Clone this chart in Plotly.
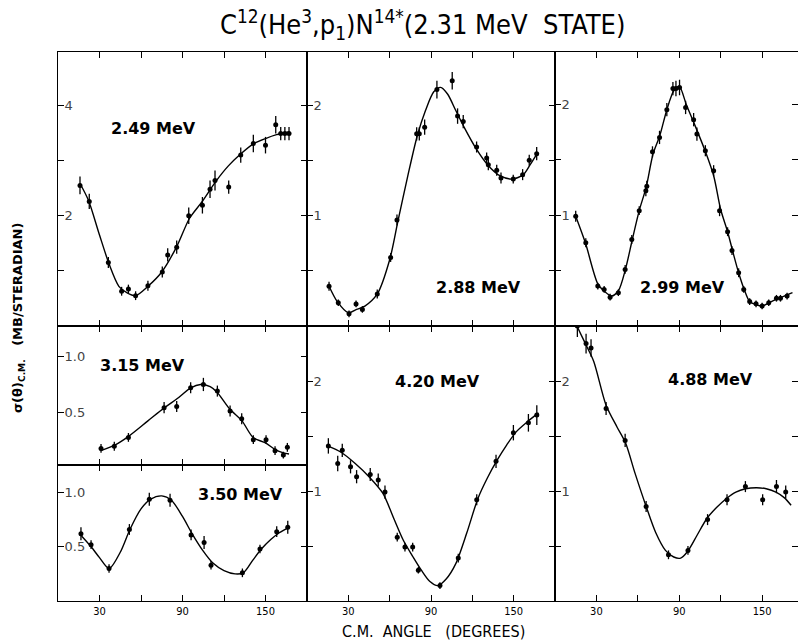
import plotly.graph_objects as go

W, H = 798, 641

# ---------------- data (angle in degrees, sigma in mb/sr) ----------------
e249_ang = [15.9, 22.6, 36.4, 46.0, 50.9, 56.1, 65.0, 75.4, 79.3, 85.8, 94.5, 104.4, 109.9, 113.5, 123.4, 132.1, 141.2, 150.0, 157.4, 161.0, 164.0, 167.0]
e249_val = [2.55, 2.26, 1.15, 0.63, 0.67, 0.55, 0.73, 0.98, 1.29, 1.43, 2.00, 2.19, 2.48, 2.64, 2.52, 3.10, 3.31, 3.28, 3.65, 3.49, 3.49, 3.49]
e249_err = [0.16, 0.14, 0.10, 0.08, 0.08, 0.08, 0.09, 0.10, 0.12, 0.12, 0.15, 0.15, 0.16, 0.18, 0.12, 0.14, 0.16, 0.15, 0.16, 0.12, 0.12, 0.12]
c249_ang = [16, 22, 30, 37, 44, 50, 56, 65, 75, 86, 95, 104, 114, 123, 132, 141, 150, 158, 167]
c249_val = [2.58, 2.28, 1.65, 1.12, 0.72, 0.60, 0.55, 0.72, 0.98, 1.45, 1.95, 2.25, 2.62, 2.90, 3.12, 3.30, 3.40, 3.47, 3.52]

e288_ang = [16.0, 22.7, 30.5, 35.6, 40.2, 51.0, 60.7, 65.3, 79.6, 81.5, 85.4, 94.3, 105.4, 109.3, 113.4, 123.1, 130.4, 131.6, 137.7, 140.8, 149.7, 156.5, 161.3, 166.7]
e288_val = [0.36, 0.21, 0.11, 0.20, 0.15, 0.29, 0.62, 0.96, 1.74, 1.74, 1.80, 2.14, 2.22, 1.90, 1.85, 1.62, 1.52, 1.46, 1.41, 1.34, 1.33, 1.37, 1.50, 1.56]
e288_err = [0.04, 0.03, 0.03, 0.03, 0.03, 0.04, 0.04, 0.05, 0.06, 0.06, 0.07, 0.08, 0.08, 0.07, 0.06, 0.05, 0.05, 0.05, 0.05, 0.05, 0.04, 0.05, 0.05, 0.06]
c288_ang = [16, 22, 30, 36, 42, 51, 60, 66, 73, 80, 86, 92, 97, 102, 108, 114, 123, 131, 140, 149, 157, 162, 167]
c288_val = [0.36, 0.22, 0.12, 0.15, 0.18, 0.29, 0.60, 0.95, 1.35, 1.72, 1.95, 2.12, 2.16, 2.10, 1.95, 1.80, 1.60, 1.46, 1.36, 1.33, 1.37, 1.46, 1.56]

e299_ang = [15.0, 22.3, 31.0, 35.6, 39.9, 45.9, 50.8, 55.6, 61.0, 65.8, 66.5, 70.6, 75.7, 81.0, 85.4, 87.6, 90.2, 94.6, 100.4, 102.8, 108.9, 114.9, 119.2, 125.0, 128.2, 133.0, 136.7, 141.0, 145.6, 150.0, 154.8, 160.4, 163.3, 168.1]
e299_val = [0.99, 0.75, 0.36, 0.33, 0.26, 0.30, 0.51, 0.78, 1.04, 1.22, 1.26, 1.57, 1.70, 1.95, 2.14, 2.14, 2.15, 1.97, 1.86, 1.73, 1.58, 1.40, 1.04, 0.85, 0.68, 0.48, 0.33, 0.22, 0.20, 0.18, 0.21, 0.25, 0.25, 0.27]
e299_err = [0.05, 0.04, 0.03, 0.03, 0.03, 0.03, 0.04, 0.04, 0.04, 0.05, 0.05, 0.05, 0.06, 0.06, 0.06, 0.07, 0.07, 0.06, 0.06, 0.06, 0.05, 0.05, 0.05, 0.04, 0.04, 0.04, 0.03, 0.03, 0.03, 0.03, 0.03, 0.03, 0.03, 0.03]
c299_ang = [15, 22, 31, 36, 41, 46, 51, 56, 61, 66, 71, 76, 81, 86, 90, 95, 101, 109, 115, 120, 125, 129, 133, 137, 141, 146, 150, 155, 160, 168, 172]
c299_val = [0.99, 0.75, 0.38, 0.31, 0.27, 0.32, 0.51, 0.78, 1.04, 1.25, 1.55, 1.72, 1.95, 2.12, 2.16, 2.00, 1.82, 1.57, 1.35, 1.05, 0.85, 0.66, 0.48, 0.33, 0.22, 0.19, 0.18, 0.21, 0.24, 0.28, 0.30]

e315_ang = [31.1, 40.7, 50.9, 76.7, 85.8, 95.9, 105.1, 115.2, 124.4, 132.8, 141.2, 150.4, 156.9, 162.9, 165.8]
e315_val = [0.17, 0.19, 0.27, 0.54, 0.55, 0.72, 0.75, 0.69, 0.51, 0.44, 0.25, 0.25, 0.15, 0.11, 0.18]
e315_err = [0.04, 0.04, 0.04, 0.05, 0.05, 0.05, 0.06, 0.05, 0.05, 0.05, 0.04, 0.04, 0.04, 0.03, 0.04]
c315_ang = [31, 41, 51, 65, 77, 86, 96, 103, 110, 115, 124, 133, 141, 150, 157, 163, 167]
c315_val = [0.15, 0.20, 0.28, 0.42, 0.54, 0.62, 0.72, 0.75, 0.73, 0.68, 0.53, 0.42, 0.27, 0.22, 0.16, 0.13, 0.12]

e350_ang = [16.6, 23.9, 36.9, 51.6, 66.0, 81.0, 96.2, 105.6, 110.6, 133.3, 146.0, 158.1, 166.1]
e350_val = [0.62, 0.52, 0.30, 0.66, 0.94, 0.93, 0.61, 0.54, 0.33, 0.26, 0.48, 0.64, 0.68]
e350_err = [0.06, 0.04, 0.04, 0.05, 0.06, 0.06, 0.05, 0.06, 0.04, 0.04, 0.04, 0.05, 0.06]
c350_ang = [17, 24, 30, 37, 45, 52, 60, 67, 75, 82, 90, 97, 105, 112, 120, 128, 134, 141, 147, 154, 160, 167]
c350_val = [0.60, 0.50, 0.40, 0.30, 0.45, 0.66, 0.85, 0.94, 0.97, 0.93, 0.78, 0.62, 0.46, 0.35, 0.28, 0.25, 0.26, 0.38, 0.48, 0.57, 0.63, 0.68]

e420_ang = [15.5, 22.3, 25.6, 31.6, 36.0, 45.9, 51.7, 56.6, 65.5, 71.1, 76.7, 80.8, 96.5, 109.8, 123.2, 137.2, 149.8, 160.7, 166.8]
e420_val = [1.41, 1.25, 1.37, 1.22, 1.13, 1.15, 1.10, 0.99, 0.58, 0.49, 0.49, 0.28, 0.14, 0.39, 0.92, 1.27, 1.53, 1.62, 1.69]
e420_err = [0.07, 0.07, 0.06, 0.06, 0.06, 0.06, 0.06, 0.06, 0.04, 0.04, 0.04, 0.03, 0.03, 0.04, 0.05, 0.06, 0.07, 0.08, 0.09]
c420_ang = [15, 25, 35, 45, 55, 63, 70, 77, 83, 89, 95, 101, 108, 116, 124, 131, 138, 145, 152, 160, 168]
c420_val = [1.41, 1.35, 1.25, 1.13, 0.98, 0.75, 0.55, 0.40, 0.28, 0.18, 0.14, 0.20, 0.34, 0.62, 0.93, 1.12, 1.28, 1.42, 1.54, 1.63, 1.71]

e488_ang = [16.2, 22.5, 26.1, 37.0, 50.8, 66.0, 82.2, 96.3, 110.5, 124.6, 137.9, 150.4, 160.4, 167.1]
e488_val = [2.50, 2.34, 2.30, 1.75, 1.46, 0.86, 0.42, 0.46, 0.74, 0.92, 1.04, 0.92, 1.04, 0.99]
e488_err = [0.10, 0.09, 0.08, 0.06, 0.06, 0.05, 0.04, 0.04, 0.05, 0.05, 0.05, 0.05, 0.06, 0.06]
c488_ang = [13, 16, 22, 28, 37, 45, 51, 58, 66, 73, 80, 86, 91, 96, 103, 110, 117, 124, 131, 138, 146, 153, 160, 166, 171]
c488_val = [2.62, 2.50, 2.34, 2.18, 1.78, 1.58, 1.44, 1.16, 0.86, 0.62, 0.46, 0.40, 0.39, 0.45, 0.60, 0.75, 0.85, 0.93, 0.99, 1.02, 1.03, 1.02, 0.99, 0.94, 0.87]

panel_labels = ["2.49 MeV", "2.88 MeV", "2.99 MeV", "3.15 MeV", "3.50 MeV", "4.20 MeV", "4.88 MeV"]
x_tickvals = [0, 30, 60, 90, 120, 150, 180]
x_ticktext = ["", "30", "", "90", "", "150", ""]

# ---------------- layout geometry (pixels) ----------------
def px_x(v):
    return v / W

def px_y(v):
    return 1 - v / H

colL = [px_x(58), px_x(307)]
colM = [px_x(307), px_x(555)]
colR = [px_x(555), 1.0]
rowTop = [px_y(326), px_y(52)]
rowBot = [px_y(601), px_y(326)]
rowLm = [px_y(465), px_y(326)]
rowLb = [px_y(601), px_y(465)]

panels = [
    (e249_ang, e249_val, e249_err, c249_ang, c249_val, colL, rowTop, [0, 4.97], [1, 2, 3, 4], ["", "2", "", "4"], [0, 180], False),
    (e288_ang, e288_val, e288_err, c288_ang, c288_val, colM, rowTop, [0, 2.48], [0.5, 1, 1.5, 2], ["", "1", "", "2"], [0, 180], False),
    (e299_ang, e299_val, e299_err, c299_ang, c299_val, colR, rowTop, [0, 2.47], [0.5, 1, 1.5, 2], ["", "1", "", "2"], [0, 176], False),
    (e315_ang, e315_val, e315_err, c315_ang, c315_val, colL, rowLm, [0.02, 1.28], [0.5, 1.0], ["0.5", "1.0"], [0, 180], False),
    (e350_ang, e350_val, e350_err, c350_ang, c350_val, colL, rowLb, [0, 1.255], [0.5, 1.0], ["0.5", "1.0"], [0, 180], True),
    (e420_ang, e420_val, e420_err, c420_ang, c420_val, colM, rowBot, [0, 2.5], [0.5, 1, 1.5, 2], ["", "1", "", "2"], [0, 180], True),
    (e488_ang, e488_val, e488_err, c488_ang, c488_val, colR, rowBot, [0, 2.5], [0.5, 1, 1.5, 2], ["", "1", "", "2"], [0, 176], True),
]

label_pos = [(153, 128), (478, 287), (682, 287), (142, 365), (240, 495), (437, 381), (710, 379)]

fig = go.Figure()
layout = dict(
    width=W, height=H, margin=dict(l=0, r=0, t=0, b=0),
    paper_bgcolor="white", plot_bgcolor="white", showlegend=False,
    font=dict(family="DejaVu Sans, sans-serif", color="black"),
)

annotations = []
for i, (pa, pv, pe, ca, cv, xd, yd, yr, ytv, ytt, xr, showx) in enumerate(panels):
    n = i + 1
    xa = "x" if n == 1 else f"x{n}"
    ya = "y" if n == 1 else f"y{n}"
    fig.add_trace(go.Scatter(x=ca, y=cv, mode="lines", line=dict(color="black", width=1.4, shape="spline", smoothing=0.8),
                             xaxis=xa, yaxis=ya, hoverinfo="skip"))
    fig.add_trace(go.Scatter(x=pa, y=pv, mode="markers", marker=dict(color="black", size=5),
                             error_y=dict(type="data", array=pe, width=0, thickness=1.3, color="black"),
                             xaxis=xa, yaxis=ya))
    axkey_x = "xaxis" if n == 1 else f"xaxis{n}"
    axkey_y = "yaxis" if n == 1 else f"yaxis{n}"
    layout[axkey_x] = dict(
        domain=xd, range=xr, anchor=ya, showgrid=False, zeroline=False,
        showline=True, linecolor="black", linewidth=1.2, mirror="ticks",
        ticks="inside", ticklen=6, tickwidth=1.2, tickcolor="black",
        tickvals=x_tickvals, ticktext=x_ticktext if showx else [""] * len(x_tickvals),
        tickfont=dict(size=11, family="DejaVu Sans Condensed, DejaVu Sans, sans-serif"),
    )
    layout[axkey_y] = dict(
        domain=yd, range=yr, anchor=xa, showgrid=False, zeroline=False,
        showline=True, linecolor="black", linewidth=1.2, mirror="ticks",
        ticks="inside", ticklen=6, tickwidth=1.2, tickcolor="black",
        tickvals=ytv, ticktext=ytt, ticklabelposition="inside",
        tickfont=dict(size=13, family="DejaVu Sans, sans-serif"),
    )
    lx, ly = label_pos[i]
    annotations.append(dict(x=px_x(lx), y=px_y(ly), xref="paper", yref="paper", text=f"<b>{panel_labels[i]}</b>",
                            xanchor="center", yanchor="middle",
                            showarrow=False, font=dict(size=16, family="DejaVu Sans, sans-serif")))

annotations.append(dict(x=px_x(422), y=px_y(24), xref="paper", yref="paper", xanchor="center", yanchor="middle",
                        text="C<sup>12</sup>(He<sup>3</sup>,p<sub>1</sub>)N<sup>14*</sup>(2.31 MeV  STATE)",
                        showarrow=False, font=dict(size=27, family="Liberation Sans Narrow, DejaVu Sans Condensed, sans-serif")))
annotations.append(dict(x=px_x(433), y=px_y(631), xref="paper", yref="paper", xanchor="center", yanchor="middle",
                        text="C.M.  ANGLE   (DEGREES)", showarrow=False,
                        font=dict(size=16, family="Liberation Sans Narrow, DejaVu Sans Condensed, sans-serif")))
annotations.append(dict(x=px_x(18), y=px_y(318), xref="paper", yref="paper", textangle=-90,
                        xanchor="center", yanchor="middle",
                        text="<b>σ(θ)<sub>C.M.</sub>   (MB/STERADIAN)</b>", showarrow=False,
                        font=dict(size=13, family="DejaVu Sans, sans-serif")))
layout["annotations"] = annotations
fig.update_layout(**layout)
fig.write_html("out.html")
